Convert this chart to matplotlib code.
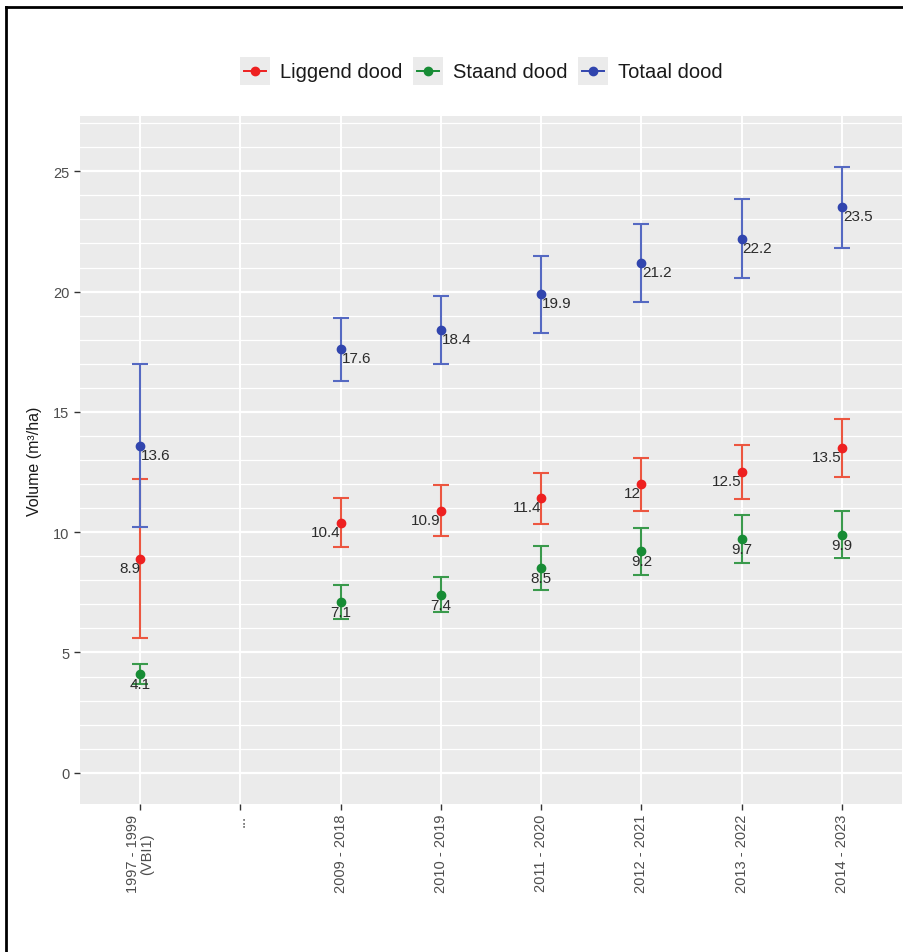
"""Dood hout volume per periode (Liggend / Staand / Totaal) met foutenbalken."""
import matplotlib
matplotlib.use("Agg")
import matplotlib.pyplot as plt
from matplotlib.lines import Line2D
from matplotlib.patches import Rectangle
import numpy as np

# ---- data -------------------------------------------------------------
categories = ["1997 - 1999\n(VBI1)", "...", "2009 - 2018", "2010 - 2019",
              "2011 - 2020", "2012 - 2021", "2013 - 2022", "2014 - 2023"]
series_names = ["Liggend dood", "Staand dood", "Totaal dood"]

liggend = [8.9, np.nan, 10.4, 10.9, 11.4, 12.0, 12.5, 13.5]
liggend_err = [3.3, np.nan, 1.0, 1.05, 1.08, 1.1, 1.13, 1.2]
staand = [4.1, np.nan, 7.1, 7.4, 8.5, 9.2, 9.7, 9.9]
staand_err = [0.4, np.nan, 0.7, 0.73, 0.92, 0.99, 1.0, 0.98]
totaal = [13.6, np.nan, 17.6, 18.4, 19.9, 21.2, 22.2, 23.5]
totaal_err = [3.4, np.nan, 1.3, 1.4, 1.6, 1.62, 1.64, 1.7]

label_text = {
    "Liggend dood": ["8.9", "", "10.4", "10.9", "11.4", "12", "12.5", "13.5"],
    "Staand dood": ["4.1", "", "7.1", "7.4", "8.5", "9.2", "9.7", "9.9"],
    "Totaal dood": ["13.6", "", "17.6", "18.4", "19.9", "21.2", "22.2", "23.5"],
}

# ---- style ------------------------------------------------------------
plt.rcParams["font.family"] = ["Liberation Sans", "DejaVu Sans"]
point_colors = {"Liggend dood": "#EE2020", "Staand dood": "#178C35", "Totaal dood": "#3145AE"}
bar_colors = {"Liggend dood": "#EC5640", "Staand dood": "#3A9A4C", "Totaal dood": "#5569C2"}
# label placement: (ha, x offset px, y offset px)
label_pos = {"Liggend dood": ("right", 0, -9),
             "Staand dood": ("center", 0, -10),
             "Totaal dood": ("left", 1, -9)}
series = {"Liggend dood": (liggend, liggend_err),
          "Staand dood": (staand, staand_err),
          "Totaal dood": (totaal, totaal_err)}

W, H = 904, 953
fig = plt.figure(figsize=(W / 100, H / 100), dpi=100)
ax = fig.add_axes([80 / W, 1 - 805 / H, (902 - 80) / W, (805 - 117) / H])
ax.set_facecolor("#EBEBEB")
for s in ax.spines.values():
    s.set_visible(False)

x = np.arange(len(categories))
ax.set_xlim(-0.6, len(categories) - 0.4)
ax.set_ylim(-1.3, 27.3)

# grid (ggplot-like)
for yv in np.arange(0, 28, 1):
    major = yv % 5 == 0
    ax.axhline(yv, color="white", lw=1.6 if major else 0.9, zorder=0)
for xv in x:
    ax.axvline(xv, color="white", lw=1.4, zorder=0)

for name in series_names:
    vals, errs = series[name]
    ax.errorbar(x, vals, yerr=errs, fmt="none", ecolor=bar_colors[name],
                elinewidth=1.5, capsize=5.5, capthick=1.5, zorder=2)
    ax.plot(x, vals, "o", color=point_colors[name], ms=6, zorder=3)
    ha, dx, dy = label_pos[name]
    for xi, v, t in zip(x, vals, label_text[name]):
        if np.isnan(v):
            continue
        ax.annotate(t, (xi, v), xytext=(dx, dy), textcoords="offset pixels",
                    ha=ha, va="center", fontsize=11, color="#2B2B2B", zorder=4)

ax.set_yticks([0, 5, 10, 15, 20, 25])
ax.set_xticks(x)
ax.set_xticklabels(categories, rotation=90, va="top", ha="center",
                   fontsize=10.5, color="#4D4D4D", linespacing=0.95)
ax.tick_params(axis="y", labelsize=10.5, labelcolor="#4D4D4D", length=4,
               color="#333333", width=1)
ax.tick_params(axis="x", length=4, color="#333333", width=1, pad=3)
ax.set_ylabel("Volume (m³/ha)", fontsize=11.5, color="#1A1A1A", labelpad=8)

# legend drawn in figure pixels
legend_y = 72
keys = [(240, 280), (413, 453), (578, 618)]
for name, (kx, tx) in zip(series_names, keys):
    fig.add_artist(Rectangle((kx / W, 1 - (legend_y + 14) / H), 30 / W, 28 / H,
                             transform=fig.transFigure, facecolor="#EBEBEB",
                             edgecolor="none"))
    fig.add_artist(Line2D([(kx + 4) / W, (kx + 26) / W],
                          [1 - legend_y / H, 1 - legend_y / H],
                          transform=fig.transFigure, color=point_colors[name], lw=1.4))
    fig.add_artist(Line2D([(kx + 15) / W], [1 - legend_y / H], marker="o", ms=6,
                          transform=fig.transFigure, color=point_colors[name]))
    fig.text(tx / W, 1 - legend_y / H, name, ha="left", va="center",
             fontsize=14.5, color="#1A1A1A")

# outer frame (top and left visible)
fig.add_artist(Line2D([6 / W, 1], [1 - 8 / H, 1 - 8 / H], transform=fig.transFigure,
                      color="black", lw=2))
fig.add_artist(Line2D([6 / W, 6 / W], [0, 1 - 8 / H], transform=fig.transFigure,
                      color="black", lw=2))

fig.savefig("out.png", dpi=100)
